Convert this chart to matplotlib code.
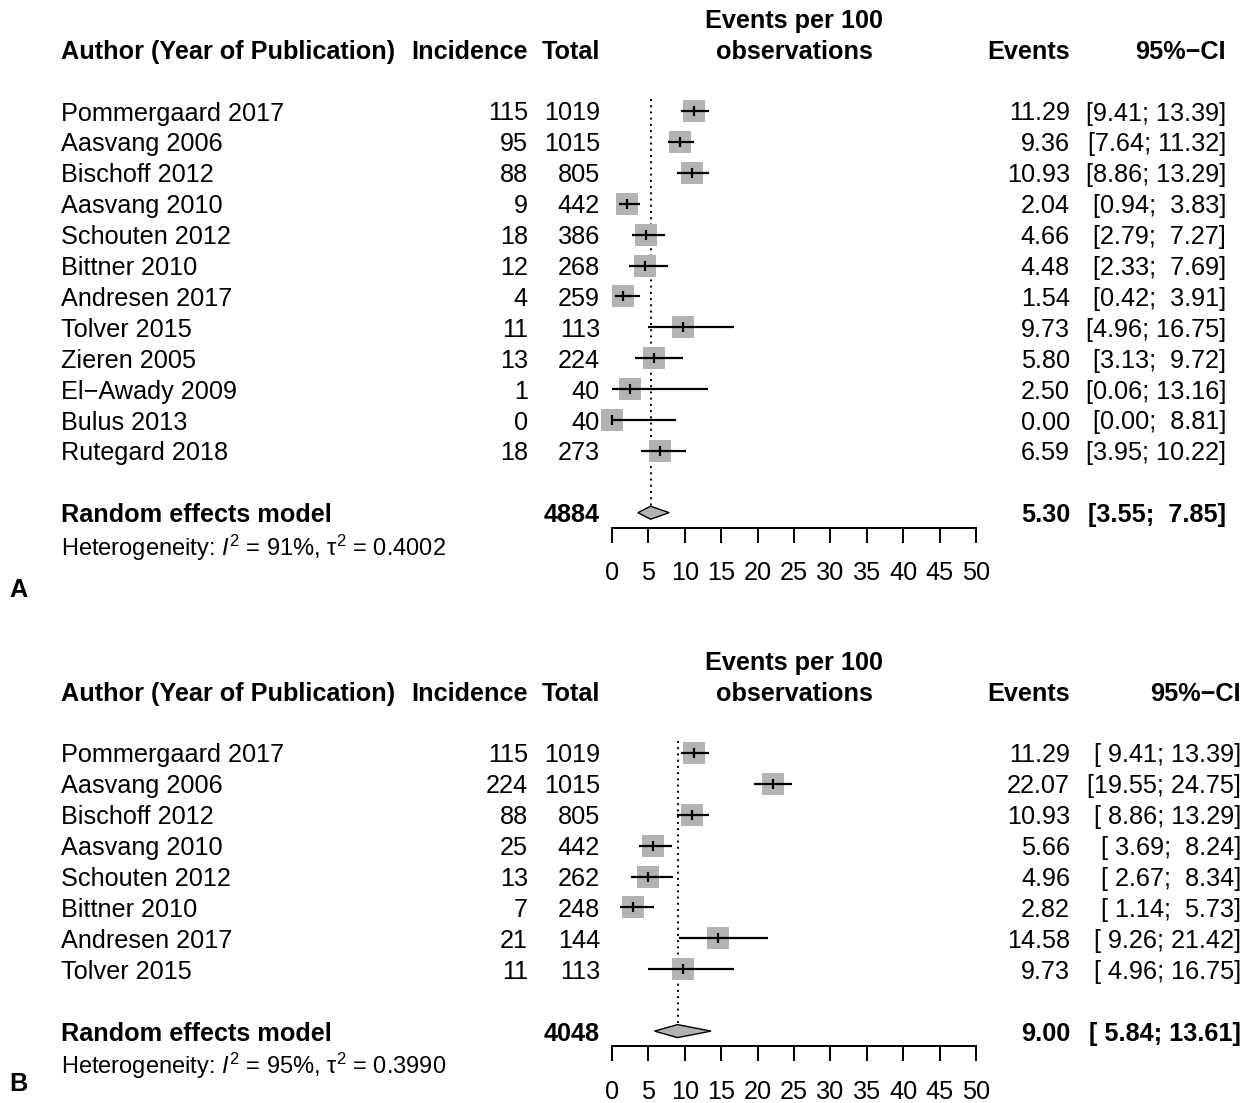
import numpy as np
import matplotlib
matplotlib.use("Agg")
import matplotlib.pyplot as plt
from matplotlib.transforms import blended_transform_factory, ScaledTranslation

plt.rcParams['font.family'] = 'Liberation Sans'
plt.rcParams['mathtext.fontset'] = 'custom'
plt.rcParams['mathtext.rm'] = 'Liberation Sans'
plt.rcParams['mathtext.it'] = 'Liberation Sans:italic'
plt.rcParams['mathtext.bf'] = 'Liberation Sans:bold'

# ---- panel A: all studies
studies_a = ["Pommergaard 2017", "Aasvang 2006", "Bischoff 2012", "Aasvang 2010",
             "Schouten 2012", "Bittner 2010", "Andresen 2017", "Tolver 2015",
             "Zieren 2005", "El\u2212Awady 2009", "Bulus 2013", "Rutegard 2018"]
events_a = [115, 95, 88, 9, 18, 12, 4, 11, 13, 1, 0, 18]
total_a = [1019, 1015, 805, 442, 386, 268, 259, 113, 224, 40, 40, 273]
est_a = [11.29, 9.36, 10.93, 2.04, 4.66, 4.48, 1.54, 9.73, 5.80, 2.50, 0.00, 6.59]
lo_a = [9.41, 7.64, 8.86, 0.94, 2.79, 2.33, 0.42, 4.96, 3.13, 0.06, 0.00, 3.95]
hi_a = [13.39, 11.32, 13.29, 3.83, 7.27, 7.69, 3.91, 16.75, 9.72, 13.16, 8.81, 10.22]
re_a = dict(total=4884, est=5.30, lo=3.55, hi=7.85, i2=91, tau2=0.4002)

# ---- panel B: subset
studies_b = ["Pommergaard 2017", "Aasvang 2006", "Bischoff 2012", "Aasvang 2010",
             "Schouten 2012", "Bittner 2010", "Andresen 2017", "Tolver 2015"]
events_b = [115, 224, 88, 25, 13, 7, 21, 11]
total_b = [1019, 1015, 805, 442, 262, 248, 144, 113]
est_b = [11.29, 22.07, 10.93, 5.66, 4.96, 2.82, 14.58, 9.73]
lo_b = [9.41, 19.55, 8.86, 3.69, 2.67, 1.14, 9.26, 4.96]
hi_b = [13.39, 24.75, 13.29, 8.24, 8.34, 5.73, 21.42, 16.75]
re_b = dict(total=4048, est=9.00, lo=5.84, hi=13.61, i2=95, tau2=0.3990)

xticks = np.arange(0, 51, 5)

W, H = 1255, 1103
fig = plt.figure(figsize=(W / 100, H / 100), dpi=100, facecolor='white')
fs = 18.2
fs_het = 17
grey = '#b3b3b3'
sp = 30.9  # row spacing in px


def fx(px):
    return px / W


def fy(py):
    return 1 - py / H


def ci_strings(lo, hi):
    # pad like R's formatC so the brackets line up
    los = ["%.2f" % v for v in lo]
    his = ["%.2f" % v for v in hi]
    wl = max(len(s) for s in los)
    wh = max(len(s) for s in his)
    return ["[%s; %s]" % (a.rjust(wl), b.rjust(wh)) for a, b in zip(los, his)]


def forest(row0, names, events, totals, est, lo, hi, re, ci_right, letter, letter_py):
    n = len(names)
    rows = np.arange(n)
    re_row = n + 1
    axis_row = re_row + 15 / sp
    top_row = -3.6
    top_px = row0 + top_row * sp
    bot_px = row0 + axis_row * sp
    ax = fig.add_axes([fx(612), fy(bot_px), fx(976) - fx(612), (bot_px - top_px) / H])
    ax.set_xlim(0, 50)
    ax.set_ylim(axis_row, top_row)
    ax.patch.set_visible(False)
    for s in ['top', 'left', 'right']:
        ax.spines[s].set_visible(False)
    ax.spines['bottom'].set_linewidth(1.4)
    ax.set_yticks([])
    ax.set_xticks(xticks)
    ax.set_xticklabels([str(t) for t in xticks])
    ax.tick_params(axis='x', direction='out', length=10.8, width=1.4, pad=13.5, labelsize=fs)

    # reference line at the pooled estimate
    h = 6.5 / sp
    ax.plot([re['est'], re['est']], [-0.4, re_row - h], color='k', lw=1.4,
            linestyle=(0, (1, 2.2)), zorder=1)

    ax.scatter(est, rows, marker='s', s=(23 * 0.72) ** 2, color=grey, linewidths=0,
               clip_on=False, zorder=2)
    ax.hlines(rows, lo, hi, color='k', lw=1.6, clip_on=False, zorder=3)
    ax.scatter(est, rows, marker='|', s=(10 * 0.72) ** 2, color='k', linewidths=1.6,
               clip_on=False, zorder=4)
    ax.fill([re['lo'], re['est'], re['hi'], re['est']],
            [re_row, re_row - h, re_row, re_row + h],
            facecolor=grey, edgecolor='k', lw=1.0, clip_on=False, zorder=3)

    # x in figure fraction, y in row units, nudged down so caps sit on the row
    tr = blended_transform_factory(fig.transFigure, ax.transData) + \
        ScaledTranslation(0, -2.5 / 100, fig.dpi_scale_trans)
    kw = dict(transform=tr, va='center', fontsize=fs)
    cis = ci_strings(list(lo) + [re['lo']], list(hi) + [re['hi']])

    # header
    hdr = dict(kw, fontweight='bold')
    ax.text(fx(61), -2, "Author (Year of Publication)", ha='left', **hdr)
    ax.text(fx(528), -2, "Incidence", ha='right', **hdr)
    ax.text(fx(600), -2, "Total", ha='right', **hdr)
    ax.text(fx(794), -3, "Events per 100", ha='center', **hdr)
    ax.text(fx(794), -2, "observations", ha='center', **hdr)
    ax.text(fx(1070), -2, "Events", ha='right', **hdr)
    ax.text(fx(ci_right), -2, "95%\u2212CI", ha='right', **hdr)

    for i in range(n):
        ax.text(fx(61), i, names[i], ha='left', **kw)
        ax.text(fx(528), i, str(events[i]), ha='right', **kw)
        ax.text(fx(600), i, str(totals[i]), ha='right', **kw)
        ax.text(fx(1070), i, "%.2f" % est[i], ha='right', **kw)
        ax.text(fx(ci_right), i, cis[i], ha='right', **kw)

    ax.text(fx(61), re_row, "Random effects model", ha='left', **hdr)
    ax.text(fx(600), re_row, str(re['total']), ha='right', **hdr)
    ax.text(fx(1070), re_row, "%.2f" % re['est'], ha='right', **hdr)
    ax.text(fx(ci_right), re_row, cis[-1], ha='right', **hdr)
    ax.text(fx(61), re_row + 1.05,
            r"Heterogeneity: $I^2$ = %d%%, $\mathrm{\tau}^2$ = %.4f" % (re['i2'], re['tau2']),
            transform=tr, va='center', ha='left', fontsize=fs_het)

    fig.text(fx(18), fy(letter_py), letter, ha='center', va='center',
             fontsize=fs, fontweight='bold')
    return ax


forest(111, studies_a, events_a, total_a, est_a, lo_a, hi_a, re_a, 1226, "A", 590)
forest(753, studies_b, events_b, total_b, est_b, lo_b, hi_b, re_b, 1241, "B", 1084)

fig.savefig("out.png", dpi=100, facecolor='white')
